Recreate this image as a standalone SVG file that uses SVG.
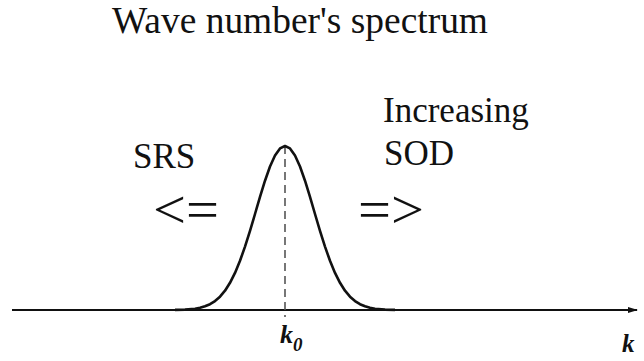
<svg xmlns="http://www.w3.org/2000/svg" width="644" height="361" viewBox="0 0 644 361">
<style>
.t{font-family:'Liberation Serif','Times New Roman',serif;fill:#111}
.lbl{font-family:'Liberation Serif','Times New Roman',serif;font-weight:bold;font-style:italic;fill:#111}
.curve{fill:none;stroke:#111;stroke-width:2.6;stroke-linejoin:round}
.axis{fill:none;stroke:#111;stroke-width:2}
.dash{fill:none;stroke:#555;stroke-width:1.6;stroke-dasharray:8,5}
</style>
<defs>
<marker id="ah" viewBox="0 0 10 6" refX="9" refY="3" markerWidth="5" markerHeight="3" orient="auto" markerUnits="strokeWidth">
<path d="M0,0 L10,3 L0,6 z" fill="#111"/>
</marker>
</defs>
<rect width="644" height="361" fill="#fff"/>
<g id="title"><text class="t" x="112" y="33" font-size="37" textLength="376" lengthAdjust="spacingAndGlyphs">Wave number's spectrum</text></g>
<g id="connectors">
<line class="axis" x1="12" y1="310" x2="637" y2="310" marker-end="url(#ah)"/>
<line class="dash" x1="285" y1="146" x2="285" y2="317"/>
</g>
<g id="spectrum">
<polyline class="curve" points="175,309.9 185,309.6 195,308.7 200,307.8 205,306.3 210,304.2 215,301.1 220,296.7 225,290.7 230,282.8 235,272.9 240,260.8 245,246.6 250,230.8 255,214.0 260,196.9 265,180.7 270,166.5 275,155.5 280,148.4 285,146 290,148.4 295,155.5 300,166.5 305,180.7 310,196.9 315,214.0 320,230.8 325,246.6 330,260.8 335,272.9 340,282.8 345,290.7 350,296.7 355,301.1 360,304.2 365,306.3 370,307.8 375,308.7 385,309.6 395,309.9"/>
</g>
<g id="srs">
<text class="t" x="133" y="168" font-size="35">SRS</text>
<text class="t" x="153" y="228" font-size="55" textLength="66" lengthAdjust="spacingAndGlyphs">&lt;=</text>
</g>
<g id="sod">
<text class="t" x="383" y="122" font-size="35">Increasing</text>
<text class="t" x="384" y="165" font-size="35">SOD</text>
<text class="t" x="358" y="228" font-size="55" textLength="66" lengthAdjust="spacingAndGlyphs">=&gt;</text>
</g>
<g id="k0"><text class="lbl" x="280" y="343" font-size="26">k<tspan font-size="19" dy="8">0</tspan></text></g>
<g id="k"><text class="lbl" x="622" y="352" font-size="25">k</text></g>
</svg>
